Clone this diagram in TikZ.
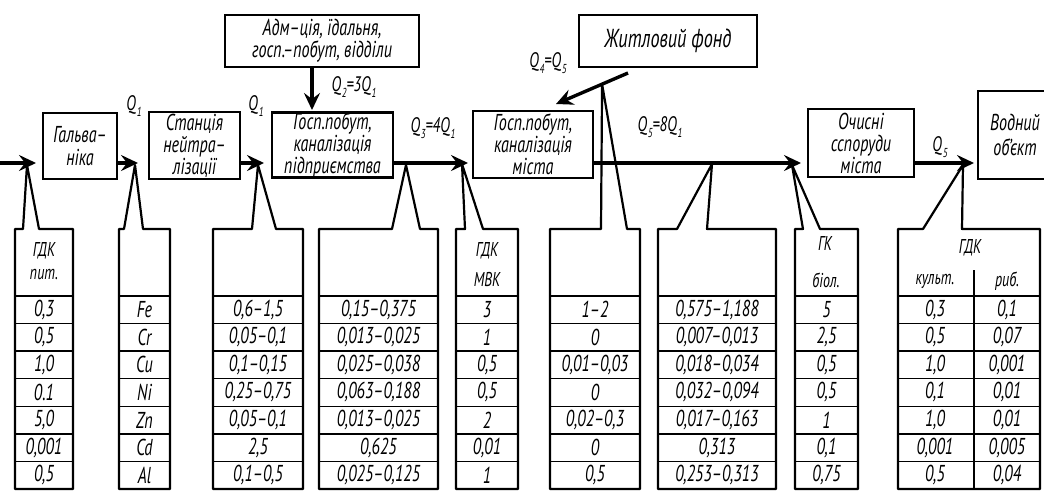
\documentclass[tikz,border=0pt]{standalone}
\usepackage{fontspec}
\setmainfont{PT Sans}[FakeStretch=0.7]
\usetikzlibrary{arrows.meta,calc}
\newcommand\Qq[1]{Q\kern0.8pt\raisebox{-0.6ex}{\fontsize{13}{13}\selectfont #1}}
\newcommand\tabshape[5]{% x0 x1 bl br apex
  \draw[tab] (#1,489) -- (#1,229) -- (#3,229) -- (#5) -- (#4,229) -- (#2,229) -- (#2,489) -- cycle;
  \foreach \k in {0,...,6} \draw[rowline] (#1,{296+27.57*\k}) -- (#2,{296+27.57*\k});
}
\newcommand\tabvals[3]{% name x list
  \foreach \v [count=\i] in {#3} \node[val] (#1-\i) at (#2,{296+27.57*(\i-0.5)}) {\v};
}
\begin{document}
\begin{tikzpicture}[x=1pt,y=-1pt,
  every node/.style={inner sep=0pt, font=\itshape},
  box/.style={draw, line width=2.6pt, align=center, font=\fontsize{23}{22}\selectfont\itshape},
  flow/.style={line width=3.4pt, -{Stealth[length=17pt,width=16pt,inset=6pt]}},
  tab/.style={line width=2.2pt, line join=round},
  rowline/.style={line width=1.4pt},
  val/.style={font=\fontsize{23}{23}\selectfont\itshape},
  hdr/.style={font=\fontsize{20}{20}\selectfont\itshape},
  qlab/.style={font=\fontsize{21}{21}\selectfont\itshape},
]
\useasboundingbox (0,0) rectangle (1044,491);
\clip (0,0) rectangle (1044,491);

% boxes
\node[box, minimum width=74pt, minimum height=66pt, font=\fontsize{23}{23}\selectfont\itshape] (galv) at (80,146) {Гальва–\\ніка};
\node[box, minimum width=91pt, minimum height=67pt] (stan) at (194.5,145.5) {Станція\\нейтра–\\лізації};
\node[box, minimum width=121pt, minimum height=64pt] (pidpr) at (332.5,145) {Госп.побут,\\каналізація\\підприємства};
\node[box, minimum width=194pt, minimum height=52pt] (adm) at (322,41) {Адм–ція, їдальня,\\госп.–побут, відділи};
\node[box, minimum width=120pt, minimum height=67pt] (mista) at (533,144.5) {Госп.побут,\\каналізація\\міста};
\node[box, minimum width=178pt, minimum height=52pt, font=\fontsize{26}{22}\selectfont\itshape] (zhyt) at (668,41) {Житловий фонд};
\node[box, minimum width=106pt, minimum height=68pt] (ochys) at (861,143) {Очисні\\сспоруди\\міста};
\node[box, minimum width=74pt, minimum height=88pt, font=\fontsize{23}{25}\selectfont\itshape] (vod) at (1015,135) {Водний\\об’єкт};

% flow
\coordinate (fin) at (0,163);
\coordinate (t1) at (36,163);
\coordinate (t2) at (138,163);
\coordinate (t3) at (264,163);
\coordinate (t4) at (468,163);
\coordinate (t5) at (801,163);
\coordinate (t6) at (974,163);
\coordinate (t7) at (312,110);
\coordinate (zs) at (628,73);
\coordinate (t8) at (556,104);
\draw[flow] (fin) -- (t1);
\draw[flow] (galv.east |- t2) -- (t2);
\draw[flow] (stan.east |- t3) -- (t3);
\draw[flow] (pidpr.east |- t4) -- (t4);
\draw[flow] (mista.east |- t5) -- (t5);
\draw[flow] (ochys.east |- t6) -- (t6);
\draw[flow] (adm.south -| t7) -- (t7);
\draw[flow] (zs) -- (t8);

% flow labels
\node[qlab] (q1a) at (134,106) {\Qq{1}};
\node[qlab] (q1b) at (256,106) {\Qq{1}};
\node[qlab] (q2) at (354,87) {\Qq{2}=3\Qq{1}};
\node[qlab] (q3) at (433,128) {\Qq{3}=4\Qq{1}};
\node[qlab] (q4) at (548,63) {\Qq{4}=\Qq{5}};
\node[qlab] (q5a) at (660,127) {\Qq{5}=8\Qq{1}};
\node[qlab] (q5b) at (940,147) {\Qq{5}};

% callout apexes
\coordinate (a1) at (27,165);
\coordinate (a2) at (135,165);
\coordinate (a3) at (258,165);
\coordinate (a4) at (406,165);
\coordinate (a5) at (462,164);
\coordinate (a6) at ($(zs)!0.36!(t8)$);
\coordinate (a7) at (712,164);
\coordinate (a8) at (792,165);
\coordinate (a9) at (963,165);

% tables
\tabshape{15}{73}{23}{39}{a1}
\tabshape{119}{170}{124}{143}{a2}
\tabshape{213}{303}{252}{276}{a3}
\tabshape{319}{438}{392}{420}{a4}
\tabshape{456}{518}{465}{483}{a5}
\tabshape{550}{640}{601}{627}{a6}
\tabshape{658}{776}{677}{707}{a7}
\tabshape{795}{858}{803}{820}{a8}
\tabshape{898}{1040}{923}{962}{a9}
\draw[rowline] (974,270) -- (974,489);

% headers
\node[hdr] (h1a) at (44,251) {ГДК};
\node[hdr] (h1b) at (44,274) {пит.};
\node[hdr] (h5a) at (487,251) {ГДК};
\node[hdr] (h5b) at (487,279) {МВК};
\node[hdr] (h8a) at (825,243) {ГК};
\node[hdr] (h8b) at (826,280) {біол.};
\node[hdr] (h9a) at (970,248) {ГДК};
\node[hdr] (h9b) at (935,281) {культ.};
\node[hdr] (h9c) at (1007,281) {риб.};

% values
\tabvals{c1}{44}{{0,3},{0,5},{1,0},{0.1},{5,0},{0,001},{0,5}}
\tabvals{c2}{144.5}{Fe,Cr,Cu,Ni,Zn,Cd,Al}
\tabvals{c3}{258}{{0,6–1,5},{0,05–0,1},{0,1–0,15},{0,25–0,75},{0,05–0,1},{2,5},{0,1–0,5}}
\tabvals{c4}{378.5}{{0,15–0,375},{0,013–0,025},{0,025–0,038},{0,063–0,188},{0,013–0,025},{0,625},{0,025–0,125}}
\tabvals{c5}{487}{3,1,{0,5},{0,5},2,{0,01},1}
\tabvals{c6}{595}{{1–2},0,{0,01–0,03},0,{0,02–0,3},0,{0,5}}
\tabvals{c7}{717}{{0,575–1,188},{0,007–0,013},{0,018–0,034},{0,032–0,094},{0,017–0,163},{0,313},{0,253–0,313}}
\tabvals{c8}{826.5}{5,{2,5},{0,5},{0,5},1,{0,1},{0,75}}
\tabvals{c9}{935}{{0,3},{0,5},{1,0},{0,1},{1,0},{0,001},{0,5}}
\tabvals{c10}{1007}{{0,1},{0,07},{0,001},{0,01},{0,01},{0,005},{0,04}}
\end{tikzpicture}
\end{document}
